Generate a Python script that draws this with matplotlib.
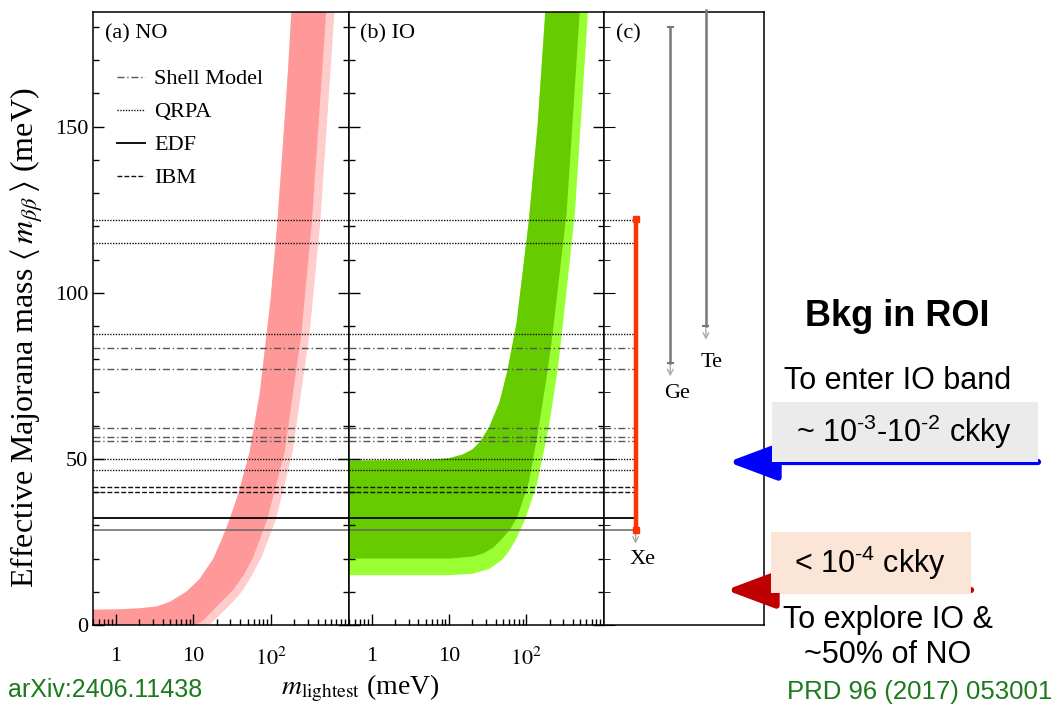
import numpy as np
import matplotlib.pyplot as plt
from matplotlib.patches import Rectangle
from matplotlib.lines import Line2D
from matplotlib.ticker import FixedLocator, FixedFormatter, LogLocator, NullFormatter, MultipleLocator

plt.rcParams['font.family'] = ['Liberation Serif', 'DejaVu Serif']
plt.rcParams['mathtext.fontset'] = 'stix'

# NO band edges (m_lightest, m_bb) in meV
no_up_m = [0.5, 1.0, 2.0, 3.4, 5.0, 8.1, 12, 17.9, 23, 29, 38, 53, 72, 99, 120, 141, 165, 185]
no_up_v = [4.6, 4.7, 5.0, 5.6, 7.0, 10.0, 13.8, 19.8, 25.5, 31.5, 39.5, 52, 70, 98, 120, 143, 166, 186]
no_lo_m = [0.5, 11, 14, 18.9, 25, 32.4, 45, 58.8, 89, 150, 247, 337, 517]
no_lo_v = [0, 0, 1.8, 5.0, 7.8, 10.5, 15.2, 20.3, 31.5, 52, 87.7, 121, 185]
no_lo3_m = [0.5, 16, 20, 26.7, 34, 43.6, 58, 75.3, 115, 190, 315, 432, 661]
no_lo3_v = [0, 0, 2.2, 5.0, 7.5, 10.5, 15.3, 20.3, 31.5, 52, 87.7, 121, 185]

# IO band edges, panel (b)
io_up_m = [0.5, 5, 10, 15, 20, 25, 33, 45, 57, 75, 108, 140, 177]
io_up_v = [49.5, 49.6, 50.2, 51.3, 52.8, 55, 59.5, 67, 76.5, 91, 121.6, 150, 185]
io_lo_m = [0.5, 10, 20, 27.4, 37, 47, 62, 76.7, 108, 138, 185, 215, 333, 494]
io_lo_v = [20, 20, 20.6, 21.5, 23.2, 25.6, 28.8, 32.5, 43, 56.5, 75, 86, 124, 185]
io_lo3_m = [0.5, 10, 20, 33.3, 49, 60, 73.1, 97.9, 138, 195, 256, 288, 427, 631]
io_lo3_v = [15, 15, 15.4, 16.9, 19.7, 22.3, 25.6, 32.1, 42.5, 59.3, 77, 87.3, 124, 185]

# NME-derived sensitivities (meV)
shell_v = [83.3, 77.0, 59.4, 56.7, 55.5]
qrpa_v = [121.9, 114.9, 87.5, 49.9, 46.6]
edf_v = [32.1, 28.6]
ibm_v = [41.6, 40.1]

xe_lim = [28.6, 122.1]
ge_lim = [79.0, 180.0]
te_lim = [90.0, 185.0]

fig = plt.figure(figsize=(10.58, 7.14), dpi=100)
W, H = 1058, 714
bot = 1 - 625 / H
hgt = (625 - 12) / H
axa = fig.add_axes([92.5 / W, bot, 256 / W, hgt])
axb = fig.add_axes([348.5 / W, bot, 255 / W, hgt])
axc = fig.add_axes([603.5 / W, bot, 160.5 / W, hgt])

ymax = 184.5


def band(ax, um, uv, lm, lv, color):
    xs = list(um) + list(lm)[::-1]
    ys = list(uv) + list(lv)[::-1]
    ax.fill(xs, ys, color=color, lw=0, zorder=1)


band(axa, no_up_m, no_up_v, no_lo3_m, no_lo3_v, '#ffcccc')
band(axa, no_up_m, no_up_v, no_lo_m, no_lo_v, '#ff9999')
band(axb, io_up_m, io_up_v, io_lo3_m, io_lo3_v, '#99ff33')
band(axb, io_up_m, io_up_v, io_lo_m, io_lo_v, '#66cc00')

styles = {
    'Shell Model': dict(ls=(0, (5, 2, 1, 2)), color='#555555', lw=1.0),
    'QRPA': dict(ls=(0, (1, 1)), color='#111111', lw=1.0),
    'EDF': dict(ls='-', color='#111111', lw=1.4),
    'IBM': dict(ls=(0, (3.5, 1.5)), color='#111111', lw=1.0),
}
groups = [('Shell Model', shell_v), ('QRPA', qrpa_v), ('EDF', edf_v), ('IBM', ibm_v)]


def line_style(name, i):
    st = dict(styles[name])
    if name == 'EDF' and i == 1:
        st['color'] = '#666666'
        st['lw'] = 1.1
    return st


for ax in (axa, axb):
    for name, vals in groups:
        for i, v in enumerate(vals):
            ax.axhline(v, zorder=2, **line_style(name, i))
    ax.set_xscale('log')
    ax.set_xlim(0.5, 1000)
    ax.set_ylim(0, ymax)
    ax.xaxis.set_major_locator(FixedLocator([1, 10, 100]))
    ax.xaxis.set_major_formatter(FixedFormatter(['1', '10', '$10^2$']))
    ax.xaxis.set_minor_locator(LogLocator(base=10, subs=np.arange(2, 10), numticks=20))
    ax.xaxis.set_minor_formatter(NullFormatter())
    ax.yaxis.set_major_locator(MultipleLocator(50))
    ax.yaxis.set_minor_locator(MultipleLocator(10))
    ax.tick_params(which='both', direction='in', top=False, right=True, width=1)
    ax.tick_params(which='major', length=8)
    ax.tick_params(which='minor', length=4.5)
    ax.tick_params(axis='x', labelsize=16, pad=16)
    ax.tick_params(axis='y', labelsize=16, pad=3)

axb.tick_params(labelleft=False)

for name, vals in groups:
    for i, v in enumerate(vals):
        axc.hlines(v, 0, 0.2, zorder=2, **line_style(name, i))

axc.set_xlim(0, 1)
axc.set_ylim(0, ymax)
axc.set_xticks([])
axc.yaxis.set_major_locator(MultipleLocator(50))
axc.yaxis.set_minor_locator(MultipleLocator(10))
axc.tick_params(which='both', direction='in', labelleft=False, right=False)
axc.tick_params(which='major', length=8)
axc.tick_params(which='minor', length=4.5)

for ax in (axa, axb, axc):
    for s in ax.spines.values():
        s.set_linewidth(1.1)

# experiment sensitivity ranges
axc.plot([0.2, 0.2], xe_lim, color='#ff3300', lw=3.2, marker='s', ms=4, zorder=4)
axc.plot([0.416, 0.416], ge_lim, color='#777777', lw=1.8, zorder=3)
axc.plot([0.40, 0.432], [ge_lim[0]] * 2, color='#777777', lw=1.5)
axc.plot([0.40, 0.432], [ge_lim[1]] * 2, color='#777777', lw=1.5)
axc.plot([0.638, 0.638], te_lim, color='#777777', lw=1.8, clip_on=False, zorder=3)
axc.plot([0.622, 0.654], [te_lim[0]] * 2, color='#777777', lw=1.5)

arr = dict(arrowstyle='->', color='#aaaaaa', lw=1.0)
axc.annotate('', xy=(0.2, xe_lim[0] - 5), xytext=(0.2, xe_lim[0]), arrowprops=arr)
axc.annotate('', xy=(0.416, ge_lim[0] - 5), xytext=(0.416, ge_lim[0]), arrowprops=arr)
axc.annotate('', xy=(0.638, te_lim[0] - 5), xytext=(0.638, te_lim[0]), arrowprops=arr)
axc.text(0.24, 19.6, 'Xe', fontsize=16, ha='center', va='center')
axc.text(0.458, 69.8, 'Ge', fontsize=16, ha='center', va='center')
axc.text(0.676, 79.1, 'Te', fontsize=16, ha='center', va='center')

# panel labels
axa.text(0.05, 177.8, '(a) NO', transform=axa.get_yaxis_transform(), fontsize=16, va='center')
axb.text(0.045, 177.8, '(b) IO', transform=axb.get_yaxis_transform(), fontsize=16, va='center')
axc.text(0.08, 177.8, '(c)', fontsize=16, va='center')

handles = [Line2D([], [], **styles[n]) for n, _ in groups]
axa.legend(handles, [n for n, _ in groups], loc='upper left', bbox_to_anchor=(0.016, 0.94),
           frameon=False, fontsize=16, handlelength=1.3, handletextpad=0.4, labelspacing=0.56)

axa.set_ylabel(r'Effective Majorana mass $\langle\, m_{\beta\beta}\, \rangle$ (meV)', fontsize=23)
axa.yaxis.set_label_coords(-0.185, 0.468)
fig.text(360 / W, 1 - 688 / H, r'$m_{\rm lightest}$ (meV)', fontsize=20, ha='center', va='center')

# right-hand annotations
sans = ['Liberation Sans', 'DejaVu Sans']
fig.patches.append(Rectangle((772 / W, 1 - 462 / H), 266 / W, 60 / H, transform=fig.transFigure,
                             facecolor='#ebebeb', edgecolor='none', zorder=0))
fig.patches.append(Rectangle((771 / W, 1 - 593 / H), 200 / W, 61 / H, transform=fig.transFigure,
                             facecolor='#fbe5d6', edgecolor='none', zorder=0))

fig.text(897 / W, 1 - 316 / H, 'Bkg in ROI', family=sans, fontsize=26, fontweight='bold', ha='center', va='center')
fig.text(898 / W, 1 - 381 / H, 'To enter IO band', family=sans, fontsize=22, ha='center', va='center')
fig.text(904 / W, 1 - 432 / H, '~ $\\mathregular{10^{\u20103}}$-$\\mathregular{10^{\u20102}}$ ckky', family=sans,
         fontsize=22, ha='center', va='center')
fig.text(870 / W, 1 - 563 / H, '< $\\mathregular{10^{\u20104}}$ ckky', family=sans, fontsize=22,
         ha='center', va='center')
fig.text(888 / W, 1 - 620 / H, 'To explore IO &', family=sans, fontsize=22, ha='center', va='center')
fig.text(888 / W, 1 - 655 / H, '~50% of NO', family=sans, fontsize=22, ha='center', va='center')
fig.text(8 / W, 1 - 690 / H, 'arXiv:2406.11438', family=sans, fontsize=18, color='#1b7a1b', ha='left', va='center')
fig.text(1052 / W, 1 - 692 / H, 'PRD 96 (2017) 053001', family=sans, fontsize=18.5, color='#1b7a1b',
         ha='right', va='center')

axc.annotate('', xy=(728 / W, 1 - 462 / H), xytext=(1038 / W, 1 - 462 / H), xycoords='figure fraction',
             textcoords='figure fraction', annotation_clip=False,
             arrowprops=dict(arrowstyle='-|>,head_length=1.2,head_width=0.45', color='#0000ff', lw=4.5,
                             mutation_scale=25, shrinkA=0, shrinkB=0))
axc.annotate('', xy=(726 / W, 1 - 590 / H), xytext=(971 / W, 1 - 590 / H), xycoords='figure fraction',
             textcoords='figure fraction', annotation_clip=False,
             arrowprops=dict(arrowstyle='-|>,head_length=1.2,head_width=0.45', color='#c00000', lw=4.5,
                             mutation_scale=25, shrinkA=0, shrinkB=0))

fig.savefig('out.png', dpi=100)
